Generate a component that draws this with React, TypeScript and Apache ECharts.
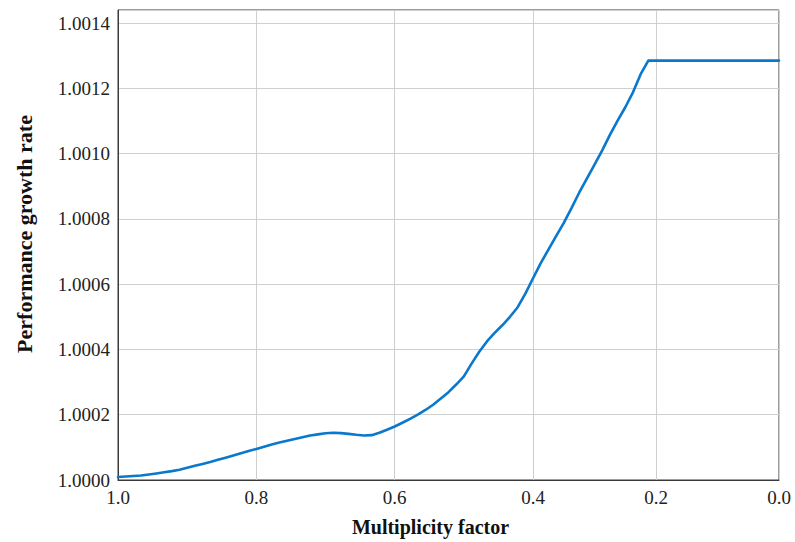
import React, { useEffect, useRef } from "react";
import * as echarts from "echarts";

// Multiplicity factor categories (left to right, axis runs 1.0 -> 0.0)
const xCategories: string[] = [
  "1.0000", "0.9889", "0.9778", "0.9667", "0.9556", "0.9444", "0.9333", "0.9222", "0.9111", "0.9000",
  "0.8889", "0.8778", "0.8667", "0.8556", "0.8444", "0.8333", "0.8222", "0.8111", "0.8000", "0.7889",
  "0.7778", "0.7667", "0.7556", "0.7444", "0.7333", "0.7222", "0.7111", "0.7000", "0.6889", "0.6778",
  "0.6667", "0.6556", "0.6444", "0.6333", "0.6222", "0.6111", "0.6000", "0.5889", "0.5778", "0.5667",
  "0.5556", "0.5444", "0.5333", "0.5222", "0.5111", "0.5000", "0.4889", "0.4778", "0.4667", "0.4556",
  "0.4444", "0.4333", "0.4222", "0.4111", "0.4000", "0.3875", "0.3750", "0.3625", "0.3500", "0.3375",
  "0.3250", "0.3125", "0.3000", "0.2875", "0.2750", "0.2625", "0.2500", "0.2375", "0.2250", "0.2125",
  "0.2000", "0.1875", "0.1750", "0.1625", "0.1500", "0.1375", "0.1250", "0.1125", "0.1000", "0.0875",
  "0.0750", "0.0625", "0.0500", "0.0375", "0.0250", "0.0125", "0.0000",
];

// Performance growth rate
const growthRate: number[] = [
  1.0000092, 1.0000107, 1.0000122, 1.0000137, 1.0000168, 1.0000201, 1.0000238, 1.0000272, 1.0000314, 1.0000372,
  1.0000434, 1.0000492, 1.000055, 1.0000617, 1.0000684, 1.0000751, 1.0000818, 1.0000885, 1.0000953, 1.000102,
  1.0001087, 1.0001148, 1.0001203, 1.0001258, 1.000131, 1.0001365, 1.0001398, 1.0001432, 1.000145, 1.0001435,
  1.0001414, 1.0001386, 1.0001365, 1.0001374, 1.000145, 1.0001542, 1.000164, 1.0001755, 1.0001875, 1.0002003,
  1.0002146, 1.0002305, 1.0002494, 1.000269, 1.0002925, 1.0003175, 1.0003566, 1.0003929, 1.0004244, 1.0004506,
  1.0004741, 1.0005001, 1.0005294, 1.0005712, 1.0006182, 1.0006646, 1.0007058, 1.000747, 1.000788, 1.0008328,
  1.0008802, 1.0009235, 1.000966, 1.00101, 1.0010575, 1.0011012, 1.0011421, 1.0011879, 1.0012435, 1.001285,
  1.001285, 1.001285, 1.001285, 1.001285, 1.001285, 1.001285, 1.001285, 1.001285, 1.001285, 1.001285,
  1.001285, 1.001285, 1.001285, 1.001285, 1.001285, 1.001285, 1.001285,
];

// Categories that carry a tick label / vertical grid line
const xTickCategories: string[] = ["1.0000", "0.8000", "0.6000", "0.4000", "0.2000", "0.0000"];
const xTickLabels: string[] = ["1.0", "0.8", "0.6", "0.4", "0.2", "0.0"];

const yMin = 1.0;
const yMax = 1.00144;
const yStep = 0.0002;

const FONT = "'Liberation Serif', 'DejaVu Serif', serif";

export default function App() {
  const ref = useRef<HTMLDivElement>(null);

  useEffect(() => {
    document.body.style.margin = "0";
    if (!ref.current) return;
    const chart = echarts.init(ref.current, null, { renderer: "svg" });
    const isTick = (_i: number, v: string) => xTickCategories.includes(v);
    chart.setOption({
      animation: false,
      backgroundColor: "#ffffff",
      grid: {
        left: 118,
        right: 16,
        top: 10,
        bottom: 59,
        show: true,
        borderColor: "#3a3a3a",
        borderWidth: 1,
        backgroundColor: "transparent",
      },
      xAxis: {
        type: "category",
        data: xCategories,
        boundaryGap: false,
        name: "Multiplicity factor",
        nameLocation: "middle",
        nameGap: 37,
        nameTextStyle: {
          fontFamily: FONT,
          fontWeight: "bold",
          fontSize: 20,
          color: "#111",
          padding: [0, 36, 0, 0],
        },
        axisLine: { show: true, lineStyle: { color: "#3a3a3a", width: 1 } },
        axisTick: { show: false, interval: isTick },
        axisLabel: {
          interval: isTick,
          margin: 8,
          fontFamily: FONT,
          fontSize: 19,
          color: "#222",
          formatter: (v: string) => xTickLabels[xTickCategories.indexOf(v)] ?? "",
        },
        splitLine: { show: true, interval: isTick, lineStyle: { color: "#cfcfcf", width: 1 } },
      },
      yAxis: {
        type: "value",
        min: yMin,
        max: yMax,
        interval: yStep,
        name: "Performance growth rate",
        nameLocation: "middle",
        nameGap: 83,
        nameTextStyle: {
          fontFamily: FONT,
          fontWeight: "bold",
          fontSize: 22,
          color: "#111",
          padding: [0, 0, 0, 22],
        },
        axisLine: { show: true, lineStyle: { color: "#3a3a3a", width: 1 } },
        axisTick: { show: false },
        axisLabel: {
          margin: 8,
          fontFamily: FONT,
          fontSize: 19,
          color: "#222",
          showMaxLabel: false,
          formatter: (v: number) => v.toFixed(4),
        },
        splitLine: { show: true, lineStyle: { color: "#cfcfcf", width: 1 } },
      },
      series: [
        {
          type: "line",
          data: growthRate,
          showSymbol: false,
          smooth: false,
          lineStyle: { color: "#0a78cc", width: 2.6, join: "round", cap: "round" },
          itemStyle: { color: "#0a78cc" },
        },
      ],
    });
    return () => chart.dispose();
  }, []);

  return <div ref={ref} style={{ width: 795, height: 542 }} />;
}
